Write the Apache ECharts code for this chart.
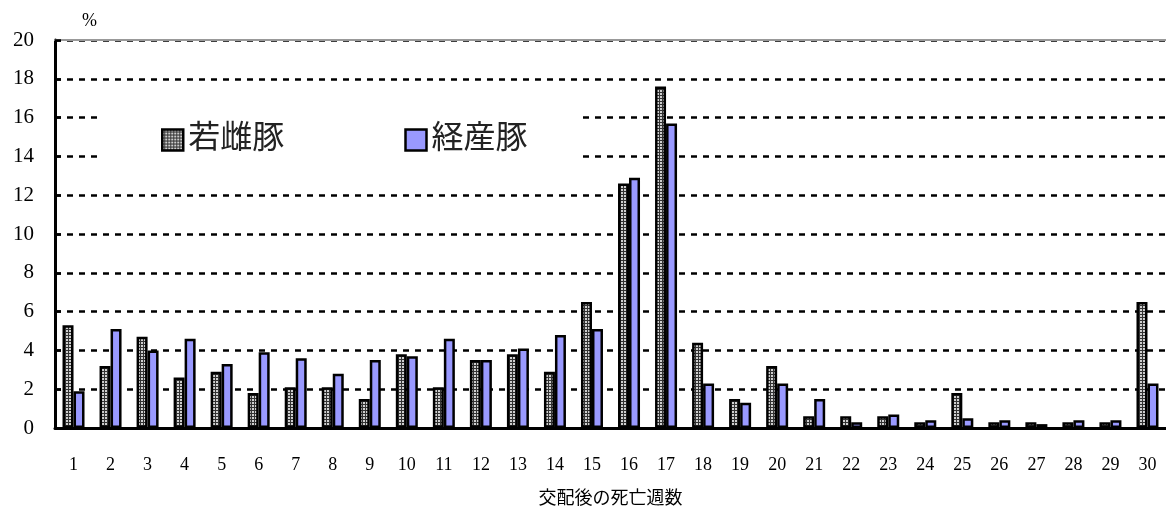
<!DOCTYPE html>
<html>
<head>
<meta charset="utf-8">
<script src="https://cdn.jsdelivr.net/npm/echarts@6/dist/echarts.min.js"></script>
<style>
  html, body { margin: 0; padding: 0; background: #fff; }
  #chart { width: 1166px; height: 513px; }
</style>
</head>
<body>
<div id="chart"></div>
<script>
// 交配後の死亡週数 (weeks after mating)
const weeks = ['1','2','3','4','5','6','7','8','9','10','11','12','13','14','15',
               '16','17','18','19','20','21','22','23','24','25','26','27','28','29','30'];
// 若雌豚 (gilts), %
const gilts = [5.3, 3.2, 4.7, 2.6, 2.9, 1.8, 2.1, 2.1, 1.5, 3.8,
               2.1, 3.5, 3.8, 2.9, 6.5, 12.6, 17.6, 4.4, 1.5, 3.2,
               0.6, 0.6, 0.6, 0.3, 1.8, 0.3, 0.3, 0.3, 0.3, 6.5];
// 経産豚 (sows), %
const sows = [1.9, 5.1, 4.0, 4.6, 3.3, 3.9, 3.6, 2.8, 3.5, 3.7,
              4.6, 3.5, 4.1, 4.8, 5.1, 12.9, 15.7, 2.3, 1.3, 2.3,
              1.5, 0.3, 0.7, 0.4, 0.5, 0.4, 0.2, 0.4, 0.4, 2.3];
const seriesNames = ['若雌豚', '経産豚'];
const yTicks = { min: 0, max: 20, step: 2 };

// fine mesh fill for the gilt bars
function meshPattern() {
  const c = document.createElement('canvas');
  c.width = 3; c.height = 3;
  const g = c.getContext('2d');
  g.fillStyle = '#333';
  g.fillRect(0, 0, 3, 3);
  g.fillStyle = '#cfcfcf';
  g.fillRect(0, 0, 2, 2);
  return c;
}
const mesh = { image: meshPattern(), repeat: 'repeat' };

const serif = '"Liberation Serif", "Times New Roman", serif';
const cjk = '"Liberation Serif", "Noto Sans CJK JP", serif';
const dashed = { color: '#000', width: 2.5, type: [6, 6] };

const chart = echarts.init(document.getElementById('chart'), null, { renderer: 'canvas' });
chart.setOption({
  animation: false,
  backgroundColor: '#fff',
  grid: { left: 55, right: -8, top: 40, bottom: 83, containLabel: false },
  legend: {
    left: 97, top: 100,
    padding: [24, 53, 20, 64],
    backgroundColor: '#fff',
    itemWidth: 21, itemHeight: 21,
    itemGap: 120,
    itemStyle: { borderColor: '#000', borderWidth: 2.5 },
    textStyle: { fontFamily: cjk, fontSize: 32, color: '#222', lineHeight: 32 },
    icon: 'rect',
    data: seriesNames
  },
  xAxis: [{
    type: 'category',
    data: weeks,
    axisLine: { lineStyle: { color: '#000', width: 3 } },
    axisTick: { inside: true, length: 7, lineStyle: { color: '#000', width: 2 } },
    axisLabel: { fontFamily: serif, fontSize: 18, color: '#000', margin: 28 },
    name: '交配後の死亡週数',
    nameLocation: 'middle',
    nameGap: 62,
    nameTextStyle: { fontFamily: cjk, fontSize: 18, color: '#000' }
  }, {
    type: 'category',
    position: 'top',
    data: weeks,
    axisLine: { lineStyle: { color: '#999', width: 2 } },
    axisTick: { show: false },
    axisLabel: { show: false }
  }],
  yAxis: {
    type: 'value',
    min: yTicks.min, max: yTicks.max, interval: yTicks.step,
    axisLine: { show: true, lineStyle: { color: '#000', width: 3 } },
    axisTick: { show: true, inside: true, length: 6, lineStyle: { color: '#000', width: 2.5 } },
    axisLabel: { fontFamily: serif, fontSize: 21, color: '#000', margin: 21 },
    splitLine: { show: true, lineStyle: dashed },
    name: '%',
    nameLocation: 'end',
    nameGap: 10,
    nameTextStyle: { fontFamily: serif, fontSize: 18, color: '#000', align: 'left', padding: [0, 0, 0, 27] }
  },
  series: [{
    name: seriesNames[0],
    type: 'bar',
    data: gilts,
    barWidth: 11,
    barGap: '0%',
    itemStyle: { color: mesh, borderColor: '#000', borderWidth: 2.5 }
  }, {
    name: seriesNames[1],
    type: 'bar',
    data: sows,
    barWidth: 11,
    barGap: '0%',
    itemStyle: { color: '#9999ff', borderColor: '#000', borderWidth: 2.5 }
  }]
});
</script>
</body>
</html>
